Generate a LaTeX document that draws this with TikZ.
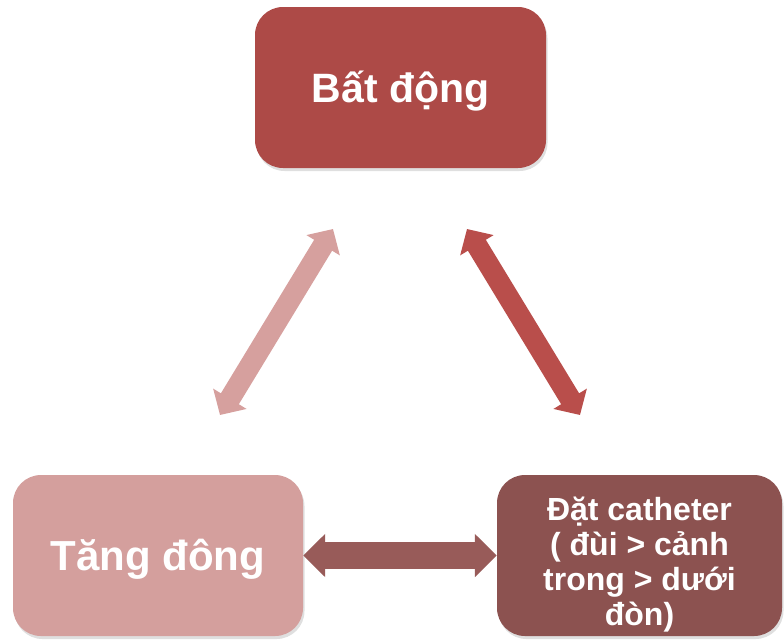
\documentclass[tikz,border=0pt]{standalone}
\usepackage{fontspec}
\setmainfont{Liberation Sans}
\usetikzlibrary{arrows.meta,shadows}

\definecolor{batcol}{HTML}{AD4A47}
\definecolor{tangcol}{HTML}{D49F9D}
\definecolor{cathcol}{HTML}{8C5250}
\definecolor{leftarr}{HTML}{D6A09E}
\definecolor{rightarr}{HTML}{B94E4B}
\definecolor{botarr}{HTML}{985B59}

\begin{document}
\begin{tikzpicture}[
  x=1pt, y=-1pt,
  box/.style={rounded corners=28pt, text=white, align=center,
    inner sep=0pt, drop shadow={shadow xshift=1.5pt, shadow yshift=-3pt, opacity=0.25}},
  dblarrow/.style={line width=21pt, {Triangle[length=19pt,width=38pt]}-{Triangle[length=19pt,width=38pt]}},
  bigarrow/.style={line width=27pt, {Triangle[length=22pt,width=42pt]}-{Triangle[length=22pt,width=42pt]}}]

    \useasboundingbox (0,0) rectangle (784,641);

    \node[box, fill=batcol, minimum width=291pt, minimum height=161pt,
      font=\bfseries\fontsize{41}{48}\selectfont, text height=29pt, text depth=0pt] at (400.5,87.5) (bat)
      {Bất động};
    \node[box, fill=tangcol, minimum width=290pt, minimum height=161pt,
      font=\bfseries\fontsize{42}{48}\selectfont, text height=30pt, text depth=0pt] at (158,555.5) (tang)
      {Tăng đông};
    \node[box, fill=cathcol, minimum width=285pt, minimum height=161pt] at (639.5,555.5) (cath) {};
    \node[text=white, align=center, inner sep=0pt, font=\bfseries\fontsize{32}{35}\selectfont]
      at ([yshift=-9pt]cath.center) (cathtext)
      {Đặt catheter\\( đùi > cảnh\\trong > dưới\\đòn)};

    \coordinate (l1) at (220,415);
    \coordinate (l2) at (333,229);
    \coordinate (r1) at (467,229);
    \coordinate (r2) at (580,415);

    \draw[dblarrow, leftarr] (l1) -- (l2);
    \draw[dblarrow, rightarr] (r1) -- (r2);
    \draw[bigarrow, botarr] (tang.east) -- (cath.west);

\end{tikzpicture}
\end{document}
